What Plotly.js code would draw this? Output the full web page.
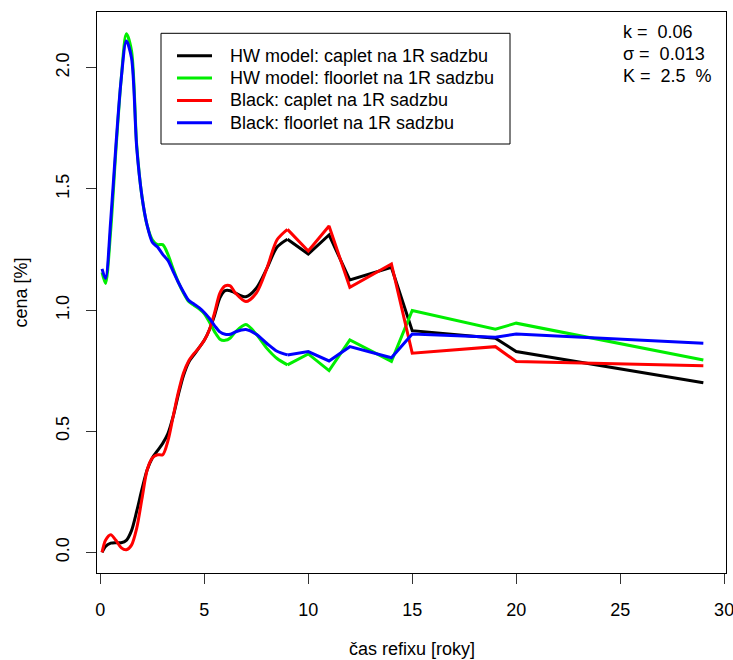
<!DOCTYPE html>
<html>
<head>
<meta charset="utf-8">
<script src="https://cdn.plot.ly/plotly-3.0.1.min.js"></script>
<style>html,body{margin:0;padding:0;background:#fff;}#chart{width:733px;height:660px;}</style>
</head>
<body>
<div id="chart"></div>
<script>
const years = [0.083,0.25,0.5,0.75,1,1.25,1.5,1.75,2,2.25,2.5,2.75,3,3.25,3.5,3.75,4,4.25,4.5,4.75,5,5.25,5.5,5.75,6,6.25,6.5,7,7.5,8,8.5,9,10,11,12,14,15,19,20,29];
const hwCaplet = [0.0,0.025,0.038,0.04,0.04,0.05,0.09,0.17,0.26,0.34,0.39,0.42,0.45,0.49,0.56,0.65,0.73,0.785,0.815,0.845,0.875,0.92,0.98,1.05,1.08,1.08,1.07,1.055,1.09,1.17,1.26,1.292,1.231,1.310,1.124,1.176,0.915,0.884,0.829,0.700];
const hwFloorlet = [1.155,1.11,1.33,1.66,1.95,2.14,2.07,1.68,1.47,1.35,1.29,1.27,1.27,1.23,1.17,1.115,1.07,1.035,1.02,1.005,0.985,0.95,0.91,0.88,0.875,0.885,0.91,0.94,0.90,0.843,0.80,0.774,0.819,0.750,0.877,0.788,0.998,0.921,0.946,0.794];
const blackCaplet = [0.0,0.05,0.073,0.05,0.02,0.011,0.03,0.10,0.22,0.34,0.39,0.403,0.403,0.46,0.56,0.66,0.74,0.79,0.82,0.845,0.875,0.92,0.99,1.07,1.10,1.10,1.07,1.035,1.07,1.17,1.29,1.333,1.244,1.347,1.094,1.190,0.822,0.849,0.788,0.770];
const blackFloorlet = [1.17,1.13,1.37,1.68,1.95,2.11,2.04,1.67,1.47,1.35,1.28,1.26,1.23,1.205,1.16,1.115,1.075,1.04,1.025,1.01,0.99,0.965,0.935,0.91,0.90,0.90,0.91,0.92,0.90,0.863,0.83,0.815,0.829,0.79,0.849,0.803,0.901,0.888,0.901,0.863];

const seriesNames = ["HW model: caplet na 1R sadzbu","HW model: floorlet na 1R sadzbu","Black: caplet na 1R sadzbu","Black: floorlet na 1R sadzbu"];
const seriesColors = ["#000000","#00ee00","#ff0000","#0000ff"];
const seriesValues = [hwCaplet, hwFloorlet, blackCaplet, blackFloorlet];

const xTicks = [0,5,10,15,20,25,30];
const yTicks = [0,0.5,1,1.5,2];
const yTickText = ["0.0","0.5","1.0","1.5","2.0"];
const paramLines = ["k =  0.06","σ =  0.013","K =  2.5  %"];

const FONT = "Liberation Sans, Arial, Helvetica, sans-serif";
const FS = 18;

// plot area in pixels (for placing legend / notes in paper coordinates)
const PL = 97, PR = 726, PT = 12, PB = 573;
const px = v => (v - PL) / (PR - PL);
const py = v => (PB - v) / (PB - PT);

// smooth part (short maturities, spline) + linear part (long maturities)
const split = years.indexOf(9);
const traces = [];
seriesValues.forEach((v,i)=>{
  traces.push({x: years.slice(0, split+1), y: v.slice(0, split+1), type:'scatter', mode:'lines',
    name: seriesNames[i], legendgroup:'g'+i, showlegend:false,
    line:{color: seriesColors[i], width:3, shape:'spline', smoothing:0.8}});
  traces.push({x: years.slice(split), y: v.slice(split), type:'scatter', mode:'lines',
    name: seriesNames[i], legendgroup:'g'+i, showlegend:false,
    line:{color: seriesColors[i], width:3}});
});

const shapes = [{type:'rect', xref:'paper', yref:'paper', x0:px(161), x1:px(510), y0:py(144), y1:py(33.3),
  line:{color:'#000', width:1}, fillcolor:'#fff', layer:'above'}];
const annotations = [];
seriesNames.forEach((n,i)=>{
  const yc = py(55.8 + i*22.3);
  shapes.push({type:'line', xref:'paper', yref:'paper', x0:px(177), x1:px(212), y0:yc, y1:yc,
    line:{color:seriesColors[i], width:3}, layer:'above'});
  annotations.push({text:n, xref:'paper', yref:'paper', x:px(228), y:yc, xanchor:'left', yanchor:'middle',
    showarrow:false, font:{family:FONT, size:FS, color:'#000'}});
});
paramLines.forEach((t,i)=>{
  annotations.push({text:t, xref:'paper', yref:'paper', x:px(621), y:py(32 + i*21.8), xanchor:'left', yanchor:'middle',
    showarrow:false, font:{family:FONT, size:FS, color:'#000'}});
});
annotations.push({text:'čas refixu [roky]', xref:'paper', yref:'paper', x:0.5, y:0, xanchor:'center', yanchor:'middle', yshift:-(649-PB), showarrow:false, font:{family:FONT,size:FS,color:'#000'}});
annotations.push({text:'cena [%]', xref:'paper', yref:'paper', x:0, y:0.5, xanchor:'center', yanchor:'middle', xshift:-(PL-20), textangle:-90, showarrow:false, font:{family:FONT,size:FS,color:'#000'}});

const layout = {
  width:733, height:660,
  margin:{l:PL, r:733-PR, t:PT, b:660-PB, pad:0},
  paper_bgcolor:'#fff', plot_bgcolor:'#fff',
  font:{family:FONT, size:FS, color:'#000'},
  showlegend:false,
  xaxis:{range:[-0.16,30.09], tickmode:'array', tickvals:xTicks, ticks:'outside', ticklen:10, tickcolor:'#333',
    showgrid:false, zeroline:false, showline:true, linecolor:'#000', linewidth:1, mirror:true,
    ticklabelstandoff:10, ticklabeloverflow:'allow', tickfont:{family:FONT,size:FS,color:'#000'}},
  yaxis:{range:[-0.085,2.230], tickmode:'array', tickvals:yTicks, ticktext:yTickText, ticks:'outside', ticklen:10, tickcolor:'#333',
    showgrid:false, zeroline:false, showline:true, linecolor:'#000', linewidth:1, mirror:true, tickangle:-90,
    ticklabelstandoff:10, ticklabeloverflow:'allow', tickfont:{family:FONT,size:FS,color:'#000'}},
  shapes: shapes,
  annotations: annotations
};

Plotly.newPlot('chart', traces, layout, {displayModeBar:false, staticPlot:true});
</script>
</body>
</html>
